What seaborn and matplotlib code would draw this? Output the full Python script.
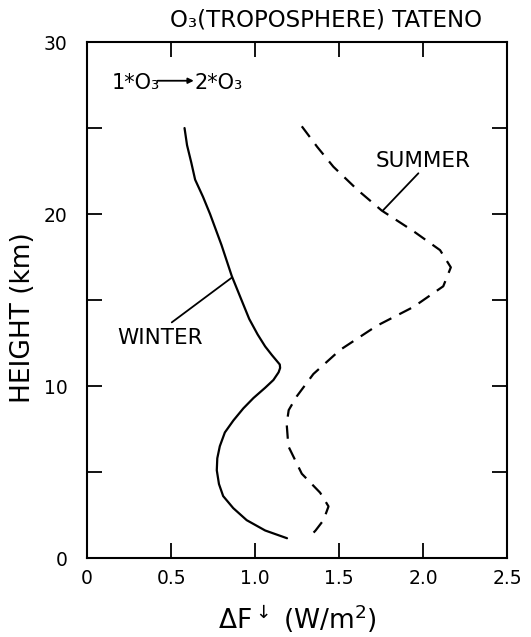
import matplotlib
matplotlib.use("Agg")
import matplotlib.pyplot as plt
import seaborn as sns
import pandas as pd
from matplotlib.ticker import MultipleLocator

# Data
winter_dF = [0.58, 0.595, 0.62, 0.643, 0.69, 0.732, 0.80, 0.861, 0.915, 0.965, 1.015, 1.06, 1.10, 1.13, 1.147, 1.149, 1.14, 1.109, 1.06, 0.99, 0.93, 0.871, 0.82, 0.79, 0.775, 0.772, 0.785, 0.81, 0.87, 0.95, 1.06, 1.19]
winter_h  = [25.0, 24.0, 23.0, 22.0, 21.0, 20.0, 18.2, 16.4, 15.1, 13.9, 13.0, 12.3, 11.8, 11.45, 11.25, 11.05, 10.8, 10.35, 9.9, 9.3, 8.7, 8.0, 7.3, 6.5, 5.8, 5.1, 4.3, 3.6, 2.9, 2.2, 1.6, 1.15]

summer_dF = [1.278, 1.37, 1.466, 1.61, 1.754, 1.943, 2.101, 2.165, 2.12, 1.943, 1.724, 1.506, 1.347, 1.248, 1.20, 1.188, 1.198, 1.278, 1.387, 1.437, 1.407, 1.36, 1.317]
summer_h  = [25.1, 23.9, 22.75, 21.4, 20.2, 19.0, 17.9, 16.9, 15.8, 14.6, 13.5, 12.1, 10.7, 9.4, 8.6, 7.8, 6.5, 4.9, 3.8, 3.0, 2.2, 1.6, 1.15]

x_ticks = [0, 0.5, 1.0, 1.5, 2.0, 2.5]
x_ticklabels = ["0", "0.5", "1.0", "1.5", "2.0", "2.5"]
y_ticks = [0, 10, 20, 30]

sns.set_theme(style="ticks")
plt.rcParams["font.family"] = ["DejaVu Sans"]
plt.rcParams["text.color"] = "black"
plt.rcParams["axes.labelcolor"] = "black"
plt.rcParams["mathtext.fontset"] = "dejavusans"

fig = plt.figure(figsize=(5.31, 6.37), dpi=100)
ax = fig.add_axes([0.164, 0.124, 0.791, 0.810])

dw = pd.DataFrame({"dF": winter_dF, "h": winter_h})
ds = pd.DataFrame({"dF": summer_dF, "h": summer_h})
sns.lineplot(data=dw, x="dF", y="h", sort=False, estimator=None, ax=ax,
             color="black", linewidth=1.6)
sns.lineplot(data=ds, x="dF", y="h", sort=False, estimator=None, ax=ax,
             color="black", linewidth=1.6, linestyle=(0, (6, 4)))

ax.set_xlim(0, 2.5)
ax.set_ylim(0, 30)
ax.set_xticks(x_ticks)
ax.set_xticklabels(x_ticklabels)
ax.set_yticks(y_ticks)
ax.yaxis.set_minor_locator(MultipleLocator(5))
ax.tick_params(which="both", direction="in", top=True, right=True,
               length=11, width=1.3, labelsize=13.5, colors="black")
ax.tick_params(axis="y", pad=14)
ax.tick_params(axis="x", pad=8)
for s in ax.spines.values():
    s.set_linewidth(1.5)
    s.set_color("black")

ax.set_xlabel(r"$\Delta$F$^{\downarrow}$ (W/m$^2$)", fontsize=19)
ax.xaxis.set_label_coords(0.5, -0.087)
ax.set_ylabel("HEIGHT (km)", fontsize=19)
ax.yaxis.set_label_coords(-0.121, 0.465)

fig.text(0.614, 0.969, "O\u2083(TROPOSPHERE) TATENO", ha="center", va="center", fontsize=16.5)

ax.text(0.148, 27.6, "1*O\u2083", ha="left", va="center", fontsize=15)
ax.text(0.64, 27.6, "2*O\u2083", ha="left", va="center", fontsize=15)
ax.annotate("", xy=(0.635, 27.75), xytext=(0.42, 27.75),
            arrowprops=dict(arrowstyle="-|>", color="black", lw=1.3,
                            mutation_scale=8, shrinkA=0, shrinkB=0))

ax.text(2.0, 23.1, "SUMMER", ha="center", va="center", fontsize=15.5)
ax.plot([1.972, 1.76], [22.37, 20.2], color="black", linewidth=1.3)
ax.text(0.435, 12.8, "WINTER", ha="center", va="center", fontsize=15.5)
ax.plot([0.504, 0.861], [13.7, 16.3], color="black", linewidth=1.3)

fig.savefig("out.png", dpi=100)
